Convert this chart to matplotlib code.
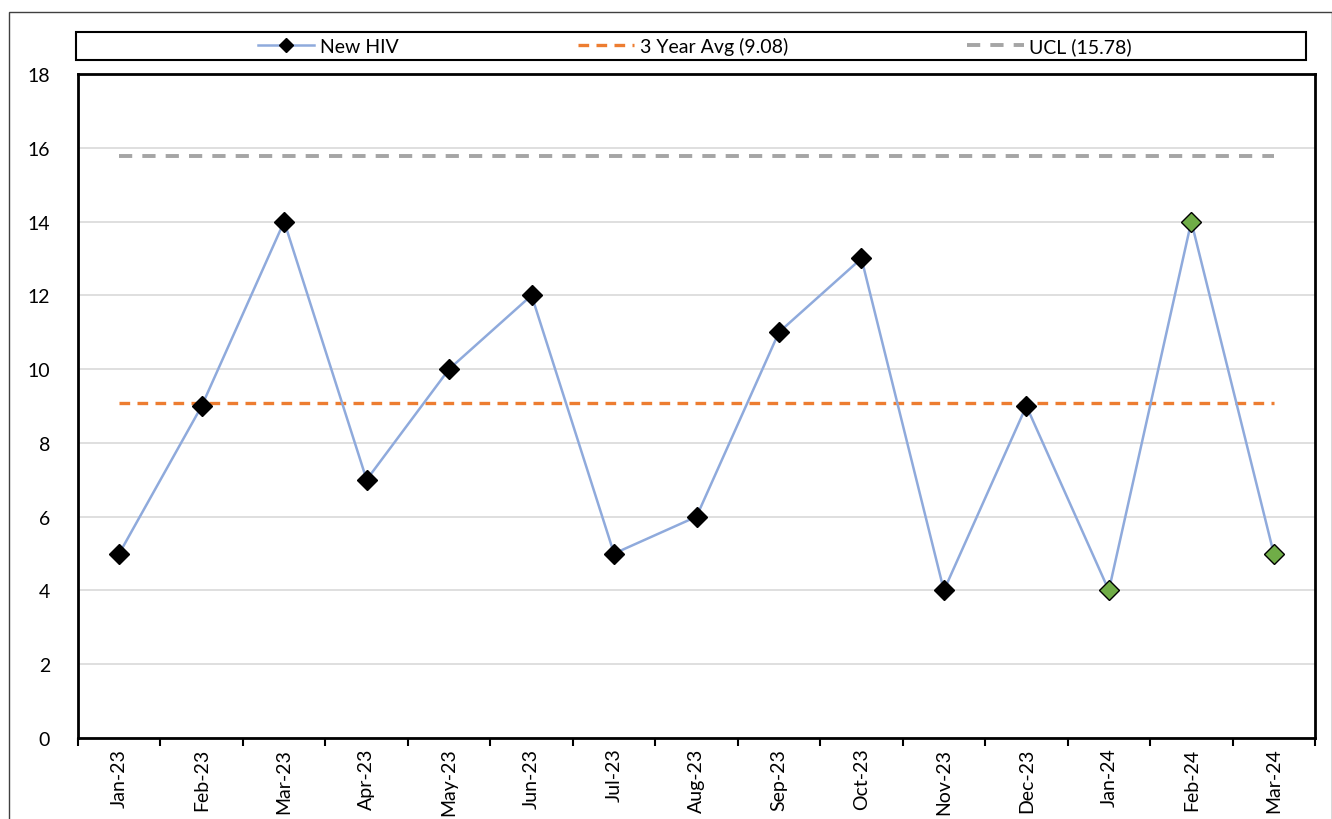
import matplotlib
matplotlib.use("Agg")
import matplotlib.pyplot as plt
from matplotlib.patches import Rectangle
from matplotlib.lines import Line2D

months = ["Jan-23", "Feb-23", "Mar-23", "Apr-23", "May-23", "Jun-23", "Jul-23",
          "Aug-23", "Sep-23", "Oct-23", "Nov-23", "Dec-23", "Jan-24", "Feb-24", "Mar-24"]
new_hiv = [5, 9, 14, 7, 10, 12, 5, 6, 11, 13, 4, 9, 4, 14, 5]
avg_value = 9.08
ucl_value = 15.78
green_from = 12  # index from which markers are green

plt.rcParams['font.family'] = ['Lato', 'DejaVu Sans']
plt.rcParams['font.size'] = 14

W, H = 1332, 820
fig = plt.figure(figsize=(W / 100, H / 100), dpi=100)

left, right, top, bottom = 78, 1315, 75, 739
ax = fig.add_axes([left / W, 1 - bottom / H, (right - left) / W, (bottom - top) / H])

x = list(range(len(months)))
line_c = "#8FAADC"
ax.plot(x, new_hiv, color=line_c, lw=1.8, zorder=3)
mcolors = ["black" if i < green_from else "#70AD47" for i in x]
for xi, yi, c in zip(x, new_hiv, mcolors):
    ax.plot(xi, yi, marker="D", ms=10, mfc=c, mec="black", mew=1.0, zorder=4)

ax.plot([x[0], x[-1]], [avg_value, avg_value], color="#ED7D31", lw=2.4,
        dashes=(3.2, 2.2), zorder=2)
ax.plot([x[0], x[-1]], [ucl_value, ucl_value], color="#A5A5A5", lw=2.8,
        dashes=(3.4, 2.6), zorder=2)

ax.set_xlim(-0.5, len(months) - 0.5)
ax.set_ylim(0, 18)
ax.set_yticks(range(0, 19, 2))
ax.yaxis.grid(True, color="#D9D9D9", lw=1.2)
ax.set_axisbelow(True)
ax.tick_params(axis="y", length=0, pad=20, labelsize=14)

ax.set_xticks(x)
ax.set_xticklabels(months, rotation=90, fontsize=14)
ax.tick_params(axis="x", which="major", length=0, pad=7)
ax.set_xticks([i - 0.5 for i in range(len(months) + 1)], minor=True)
ax.tick_params(axis="x", which="minor", length=6, width=1.5, direction="out")

for s in ax.spines.values():
    s.set_linewidth(2)
    s.set_color("black")

# Outer chart border
fig.patches.append(Rectangle((9 / W, -0.02), (W - 9) / W, 1 - 13 / H + 0.02,
                             transform=fig.transFigure, fill=False,
                             edgecolor="#404040", lw=1.0))
# Legend box
fig.patches.append(Rectangle((76 / W, 1 - 61 / H), (1306 - 76) / W, 28 / H,
                             transform=fig.transFigure, fill=False,
                             edgecolor="black", lw=1.5))

handles = [
    Line2D([], [], color=line_c, lw=1.8, marker="D", ms=7, mfc="black", mec="black"),
    Line2D([], [], color="#ED7D31", lw=2.4, dashes=(3.2, 2.2)),
    Line2D([], [], color="#A5A5A5", lw=2.8, dashes=(3.4, 2.6)),
]
labels = ["New HIV", "3 Year Avg (9.08)", "UCL (15.78)"]
fig.legend(handles, labels, loc="center", bbox_to_anchor=(695 / W, 1 - 47 / H),
           ncol=3, frameon=False, handlelength=2.9, handletextpad=0.3,
           columnspacing=9.2, fontsize=14, borderpad=0)

fig.savefig("out.png", dpi=100)
